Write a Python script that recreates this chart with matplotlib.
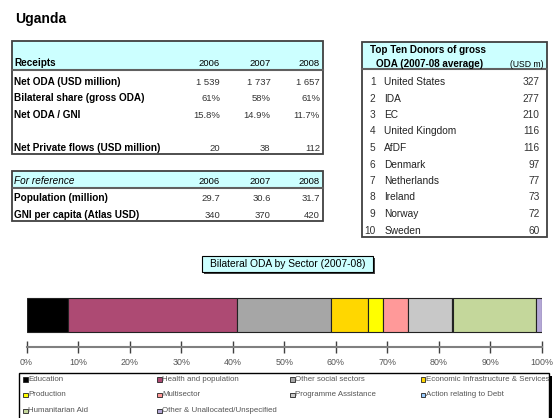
import matplotlib.pyplot as plt
from matplotlib.patches import Rectangle

plt.rcParams['font.family'] = ['Liberation Sans', 'DejaVu Sans']

country = 'Uganda'
years = ['2006', '2007', '2008']
receipt_labels = ['Net ODA (USD million)', 'Bilateral share (gross ODA)',
                  'Net ODA / GNI', '', 'Net Private flows (USD million)']
receipt_values = [['1 539', '1 737', '1 657'],
                  ['61%', '58%', '61%'],
                  ['15.8%', '14.9%', '11.7%'],
                  ['', '', ''],
                  ['20', '38', '112']]
ref_labels = ['Population (million)', 'GNI per capita (Atlas USD)']
ref_values = [['29.7', '30.6', '31.7'],
              ['340', '370', '420']]

donors = ['United States', 'IDA', 'EC', 'United Kingdom', 'AfDF',
          'Denmark', 'Netherlands', 'Ireland', 'Norway', 'Sweden']
donor_values = [327, 277, 210, 116, 116, 97, 77, 73, 72, 60]

sectors = ['Education', 'Health and population', 'Other social sectors',
           'Economic Infrastructure & Services', 'Production', 'Multisector',
           'Programme Assistance', 'Action relating to Debt',
           'Humanitarian Aid', 'Other & Unallocated/Unspecified']
shares = [8.0, 32.9, 18.1, 7.2, 2.9, 4.9, 8.5, 0.3, 16.0, 1.2]
colors = ['#000000', '#AD4A73', '#A6A6A6', '#FFD700', '#FFFF00', '#FF9999',
          '#C8C8C8', '#99CCFF', '#C4D79B', '#B4A7D6']

W, H = 557, 418
fig = plt.figure(figsize=(W / 100, H / 100), dpi=100)

# overlay in pixel units for the tables and boxes
ov = fig.add_axes([0, 0, 1, 1])
ov.set_xlim(0, W)
ov.set_ylim(H, 0)
ov.axis('off')

cyan = '#CCFFFF'
edge = '#404040'
txt_num = '#333333'

ov.text(15, 22.5, country, fontsize=10, fontweight='bold', va='baseline')


def box(x0, y0, x1, y1, yhead):
    ov.add_patch(Rectangle((x0, y0), x1 - x0, yhead - y0, facecolor=cyan, edgecolor='none'))
    ov.add_patch(Rectangle((x0, y0), x1 - x0, y1 - y0, facecolor='none', edgecolor=edge, lw=1.3))
    ov.plot([x0, x1], [yhead, yhead], color='#606060', lw=1.5)


col_right = [220, 270.5, 320]

# receipts table
box(11.7, 40.7, 323, 154, 70)
ov.text(14, 66, 'Receipts', fontsize=7.2, fontweight='bold', va='baseline')
for x, yr in zip(col_right, years):
    ov.text(x, 66, yr, fontsize=6.8, ha='right', va='baseline')
for i, (lab, vals) in enumerate(zip(receipt_labels, receipt_values)):
    y = 85 + i * 16.4
    ov.text(14, y, lab, fontsize=7.2, fontweight='bold', va='baseline')
    for x, v in zip(col_right, vals):
        ov.text(x, y, v, fontsize=6.8, ha='right', va='baseline', color=txt_num)

# reference table
box(11.7, 171, 323, 221, 188.3)
ov.text(14, 184.3, 'For reference', fontsize=7.2, fontstyle='italic', va='baseline')
for x, yr in zip(col_right, years):
    ov.text(x, 184.3, yr, fontsize=6.8, ha='right', va='baseline')
for i, (lab, vals) in enumerate(zip(ref_labels, ref_values)):
    y = 201 + i * 16.7
    ov.text(14, y, lab, fontsize=7.2, fontweight='bold', va='baseline')
    for x, v in zip(col_right, vals):
        ov.text(x, y, v, fontsize=6.8, ha='right', va='baseline', color=txt_num)

# donors table
box(361.7, 41.7, 546.7, 236.7, 69.3)
ov.text(370, 53.3, 'Top Ten Donors of gross', fontsize=7.1, fontweight='bold', va='baseline')
ov.text(375.5, 66.7, 'ODA (2007-08 average)', fontsize=7.1, fontweight='bold', va='baseline')
ov.text(544, 66.7, '(USD m)', fontsize=6.2, ha='right', va='baseline')
for i, (name, v) in enumerate(zip(donors, donor_values)):
    y = 85 + i * 16.5
    ov.text(375.5, y, str(i + 1), fontsize=7.3, ha='right', va='baseline', color=txt_num)
    ov.text(384.3, y, name, fontsize=7.3, va='baseline', color='#222222')
    ov.text(539.5, y, str(v), fontsize=7.3, ha='right', va='baseline', color=txt_num)

# chart title box with shadow
ov.add_patch(Rectangle((204, 257.5), 171, 16, facecolor='#404040', edgecolor='none'))
ov.add_patch(Rectangle((202, 255.5), 171, 16, facecolor=cyan, edgecolor='black', lw=0.8))
ov.text(287.5, 264, 'Bilateral ODA by Sector (2007-08)', fontsize=7.4,
        ha='center', va='center')

# legend box
ov.add_patch(Rectangle((549, 376), 2.5, H - 376, facecolor='black', edgecolor='none'))
ov.add_patch(Rectangle((19.3, 372.7), 529.4, 60, facecolor='white', edgecolor='black', lw=1))
leg_x = [25.3, 159.3, 292.3, 422.7]
leg_y = [379.3, 395, 410.7]
for k, (name, c) in enumerate(zip(sectors, colors)):
    x = leg_x[k % 4]
    y = leg_y[k // 4]
    ov.add_patch(Rectangle((x - 2, y - 2), 4.2, 4.2, facecolor=c, edgecolor='#222222', lw=0.6))
    ov.text(x + 3, y, name, fontsize=5.7, va='center', color='#555555', clip_on=True)

# stacked bar
ax = fig.add_axes([26.5 / W, (H - 347.3) / H, (542 - 26.5) / W, (347.3 - 290) / H])
ax.patch.set_alpha(0)
left = 0
for s, c in zip(shares, colors):
    ax.barh(32.5, s, left=left, height=34.5, color=c, edgecolor='#222222', lw=0.8)
    left += s
ax.set_xlim(0, 100)
ax.set_ylim(0, 57.3)
for sp in ['top', 'left', 'right']:
    ax.spines[sp].set_visible(False)
ax.spines['bottom'].set_color('#808080')
ax.spines['bottom'].set_linewidth(1.5)
ax.set_yticks([])
ax.set_xticks(range(0, 101, 10))
ax.set_xticklabels([f'{t}%' for t in range(0, 101, 10)])
ax.tick_params(axis='x', direction='inout', length=8, width=1, color='#404040',
               labelsize=6.4, labelcolor='#555555', pad=4)

fig.savefig('out.png', dpi=100)
